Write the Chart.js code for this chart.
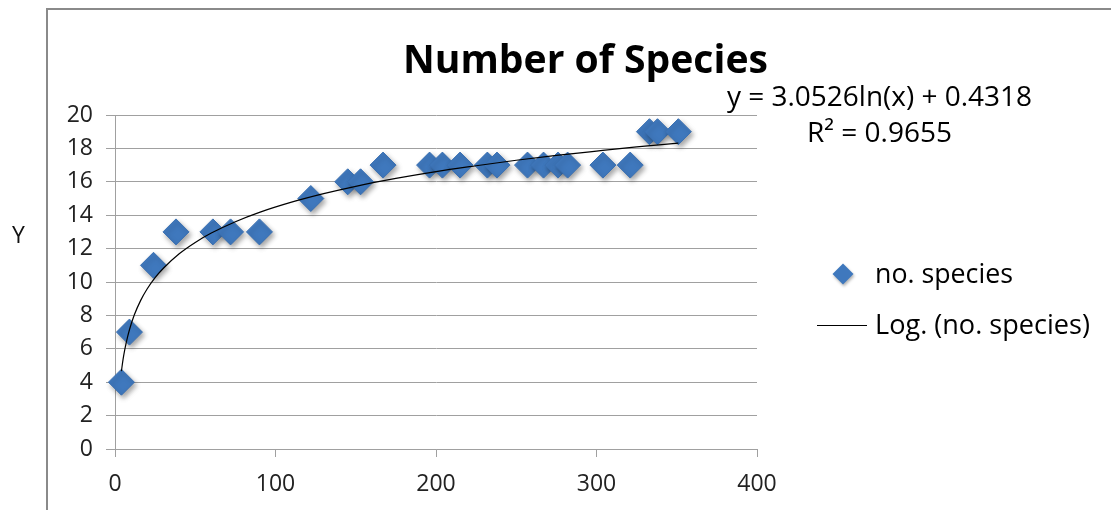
<!DOCTYPE html>
<html>
<head>
<meta charset="utf-8">
<script src="https://cdn.jsdelivr.net/npm/chart.js@4"></script>
<style>
html,body{margin:0;padding:0;background:#fff;overflow:hidden;}
#wrap{position:relative;width:1111px;height:510px;}
</style>
</head>
<body>
<div id="wrap"><canvas id="c"></canvas></div>
<script>
// ---- data ----
const chartTitle = "Number of Species";
const yAxisLabel = "Y";
const seriesLabel = "no. species";
const trendLabel = "Log. (no. species)";
const equationLines = ["y = 3.0526ln(x) + 0.4318", "R\u00B2 = 0.9655"];

const speciesX = [4, 9, 24, 38, 61, 72, 90, 122, 145, 153, 167, 196, 204, 215, 232, 238, 257, 267, 276, 282, 304, 321, 333, 338, 351];
const speciesY = [4, 7, 11, 13, 13, 13, 13, 15, 16, 16, 17, 17, 17, 17, 17, 17, 17, 17, 17, 17, 17, 17, 19, 19, 19];

// trendline as it appears in the picture
const trendX = [4, 5, 6, 7, 9, 12, 16, 20, 25, 30, 40, 50, 60, 75, 90, 110, 130, 150, 175, 200, 225, 250, 275, 300, 325, 351];
const trendY = [4.66, 5.35, 5.90, 6.37, 7.14, 8.02, 8.90, 9.58, 10.26, 10.81, 11.69, 12.37, 12.93, 13.61, 14.17, 14.78, 15.29, 15.73, 16.20, 16.61, 16.96, 17.29, 17.58, 17.84, 18.09, 18.32];

const xTicks = [0, 100, 200, 300, 400];
const yTicks = [0, 2, 4, 6, 8, 10, 12, 14, 16, 18, 20];

// ---- helpers ----
const FAMILY = "'Open Sans', 'Liberation Sans', sans-serif";
function fitFont(ctx, text, weight, targetWidth) {
  ctx.font = weight + " 100px " + FAMILY;
  const w = ctx.measureText(text).width;
  return weight + " " + (100 * targetWidth / w).toFixed(2) + "px " + FAMILY;
}

const decor = {
  id: 'decor',
  beforeDraw(chart) {
    const ctx = chart.ctx;
    ctx.save();
    ctx.fillStyle = '#ffffff';
    ctx.fillRect(0, 0, chart.width, chart.height);
    // outer chart border (clipped by window)
    ctx.strokeStyle = '#8a8a8a';
    ctx.lineWidth = 2;
    ctx.beginPath();
    ctx.moveTo(47, chart.height + 2);
    ctx.lineTo(47, 9);
    ctx.lineTo(chart.width + 2, 9);
    ctx.stroke();
    // Y label (outside chart box)
    ctx.fillStyle = '#111';
    ctx.font = "23px " + FAMILY;
    ctx.textAlign = 'center';
    ctx.textBaseline = 'alphabetic';
    ctx.fillText(yAxisLabel, 18.5, 243);
    ctx.restore();
  },
  beforeDatasetDraw(chart, args) {
    if (args.index === 0) {
      const ctx = chart.ctx;
      ctx.save();
      ctx.shadowColor = 'rgba(0,0,0,0.35)';
      ctx.shadowBlur = 5;
      ctx.shadowOffsetX = 2;
      ctx.shadowOffsetY = 3;
    }
  },
  afterDatasetDraw(chart, args) {
    if (args.index === 0) chart.ctx.restore();
  },
  afterDraw(chart) {
    const ctx = chart.ctx;
    ctx.save();
    ctx.fillStyle = '#000';
    ctx.textBaseline = 'alphabetic';
    // title
    ctx.font = fitFont(ctx, chartTitle, 'bold', 365);
    ctx.textAlign = 'left';
    ctx.fillText(chartTitle, 403, 73);
    // equation
    ctx.font = fitFont(ctx, equationLines[0], 'normal', 305);
    ctx.fillText(equationLines[0], 727, 105.5);
    ctx.font = fitFont(ctx, equationLines[1], 'normal', 145);
    ctx.fillText(equationLines[1], 807, 141.5);
    // legend
    const ds = chart.data.datasets;
    // diamond
    ctx.save();
    ctx.shadowColor = 'rgba(0,0,0,0.3)';
    ctx.shadowBlur = 3;
    ctx.shadowOffsetX = 1;
    ctx.shadowOffsetY = 2;
    ctx.fillStyle = ds[0].backgroundColor;
    ctx.beginPath();
    ctx.moveTo(843, 263.5); ctx.lineTo(853.5, 274); ctx.lineTo(843, 284.5); ctx.lineTo(832.5, 274);
    ctx.closePath();
    ctx.fill();
    ctx.restore();
    ctx.fillStyle = '#000';
    ctx.font = fitFont(ctx, ds[0].label, 'normal', 138);
    ctx.fillText(ds[0].label, 875, 282.5);
    // line
    ctx.strokeStyle = ds[1].borderColor;
    ctx.lineWidth = 1;
    ctx.beginPath();
    ctx.moveTo(817, 325.5); ctx.lineTo(867, 325.5);
    ctx.stroke();
    ctx.font = fitFont(ctx, ds[1].label, 'normal', 215);
    ctx.fillText(ds[1].label, 875, 333.5);
    ctx.restore();
  }
};

const ctx = document.getElementById('c').getContext('2d');
new Chart(ctx, {
  type: 'scatter',
  data: {
    datasets: [
      {
        label: seriesLabel,
        data: speciesX.map((x, i) => ({ x: x, y: speciesY[i] })),
        pointStyle: 'rectRot',
        pointRadius: 13,
        pointHoverRadius: 13,
        backgroundColor: '#3f78bd',
        borderColor: '#3a70b2',
        borderWidth: 1,
        clip: false,
        order: 1
      },
      {
        type: 'line',
        label: trendLabel,
        data: trendX.map((x, i) => ({ x: x, y: trendY[i] })),
        showLine: true,
        borderColor: '#000000',
        borderWidth: 1.2,
        pointRadius: 0,
        fill: false,
        cubicInterpolationMode: 'monotone',
        clip: false,
        order: 0
      }
    ]
  },
  options: {
    responsive: true,
    maintainAspectRatio: false,
    animation: false,
    devicePixelRatio: 1,
    layout: { padding: { left: 0, top: 115, right: 354, bottom: 0 } },
    plugins: {
      legend: { display: false },
      title: { display: false },
      tooltip: { enabled: false }
    },
    scales: {
      x: {
        type: 'linear',
        min: xTicks[0],
        max: xTicks[xTicks.length - 1],
        afterBuildTicks(scale) { scale.ticks = xTicks.map(v => ({ value: v })); },
        afterFit(scale) { scale.height = 61; },
        grid: {
          drawOnChartArea: false,
          drawTicks: true,
          tickLength: 8,
          color: '#a0a0a0',
          lineWidth: 1
        },
        border: { display: true, color: '#a0a0a0', width: 1 },
        ticks: {
          padding: 14,
          color: '#222',
          font: { family: FAMILY, size: 23 },
          maxRotation: 0
        }
      },
      y: {
        type: 'linear',
        min: yTicks[0],
        max: yTicks[yTicks.length - 1],
        afterBuildTicks(scale) { scale.ticks = yTicks.map(v => ({ value: v })); },
        afterFit(scale) { scale.width = 115; },
        grid: {
          drawOnChartArea: true,
          drawTicks: true,
          tickLength: 9,
          color: '#a0a0a0',
          lineWidth: 1
        },
        border: { display: true, color: '#a0a0a0', width: 1 },
        ticks: {
          padding: 13,
          color: '#222',
          font: { family: FAMILY, size: 23 }
        }
      }
    }
  },
  plugins: [decor]
});
</script>
</body>
</html>
